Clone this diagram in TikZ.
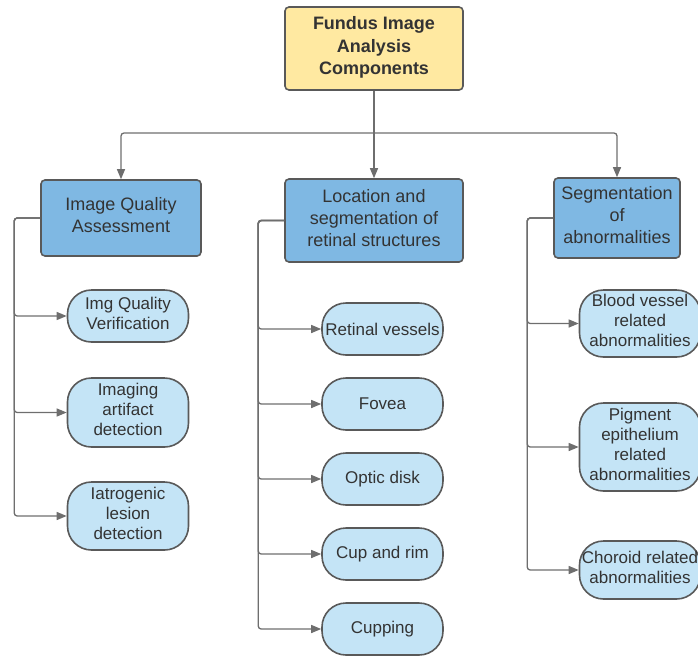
\documentclass[tikz,border=0pt]{standalone}
\usepackage{fontspec}
\setmainfont{Liberation Sans}
\usetikzlibrary{arrows.meta,positioning}
\definecolor{rootfill}{HTML}{FFE9A1}
\definecolor{groupfill}{HTML}{7FB8E3}
\definecolor{leaffill}{HTML}{C4E4F6}
\definecolor{edgegray}{HTML}{595959}
\definecolor{wiregray}{HTML}{6E6E6E}
\definecolor{ink}{HTML}{333333}

\begin{document}
\begin{tikzpicture}[
  x=1pt, y=-1pt,
  rootbox/.style={draw=edgegray, line width=1.6pt, fill=rootfill, rounded corners=4pt, align=center, inner sep=0pt,
    text=ink, font=\fontsize{18}{22.5}\selectfont\bfseries, minimum width=178pt, minimum height=83pt, text depth=6pt},
  groupbox/.style={draw=edgegray, line width=1.6pt, fill=groupfill, rounded corners=4pt, align=center, inner sep=0pt,
    text=ink, font=\fontsize{18}{22}\selectfont, text depth=6pt},
  leaf/.style={draw=edgegray, line width=1.6pt, fill=leaffill, rounded corners=24pt, align=center, inner sep=0pt,
    text=ink, font=\fontsize{17}{20}\selectfont, minimum width=121pt},
  lift/.style={text depth=6pt},
  wire/.style={draw=wiregray, line width=1.3pt, rounded corners=3pt},
  arr/.style={wire, -{Triangle[length=10pt,width=8pt]}}
]
\useasboundingbox (0,0) rectangle (698,656);

% top
\node[rootbox] (root) at (374,48.5) {Fundus Image\\Analysis\\Components};

% three branches
\node[groupbox, minimum width=160pt, minimum height=76pt] (iqa) at (121,218) {Image Quality\\Assessment};
\node[groupbox, minimum width=178pt, minimum height=83pt] (loc) at (374,220.5) {Location and\\segmentation of\\retinal structures};
\node[groupbox, minimum width=126pt, minimum height=80pt] (seg) at (617,218) {Segmentation\\of\\abnormalities};

\coordinate (hub) at (374,133);
\draw[wire] (root) -- (hub);
\draw[arr] (hub) -| (iqa);
\draw[arr] (hub) -- (loc);
\draw[arr] (hub) -| (seg);

% image quality
\node[leaf, lift, minimum height=52pt] (iqv) at (128,316) {Img Quality\\Verification};
\node[leaf, lift, minimum height=69pt] (iad) at (128,412.5) {Imaging\\artifact\\detection};
\node[leaf, lift, minimum height=68pt] (ild) at (128,516) {Iatrogenic\\lesion\\detection};

% retinal structures
\node[leaf, minimum height=52pt] (ves) at (382.5,329) {Retinal vessels};
\node[leaf, minimum height=52pt] (fov) at (382.5,404) {Fovea};
\node[leaf, minimum height=52pt] (opt) at (382.5,479) {Optic disk};
\node[leaf, minimum height=52pt] (cup) at (382.5,554) {Cup and rim};
\node[leaf, minimum height=52pt] (cpg) at (382.5,629) {Cupping};

% abnormalities
\node[leaf, lift, minimum height=67pt] (bva) at (640,323.5) {Blood vessel\\related\\abnormalities};
\node[leaf, lift, minimum height=88pt] (pea) at (640,447) {Pigment\\epithelium\\related\\abnormalities};
\node[leaf, lift, minimum height=58pt] (cra) at (640,570) {Choroid related\\abnormalities};

\foreach \n in {iqv,iad,ild}
  \draw[arr] (iqa.west) -- ++(-26,0) |- (\n.west);
\foreach \n in {ves,fov,opt,cup,cpg}
  \draw[arr] (loc.west) -- ++(-26,0) |- (\n.west);
\foreach \n in {bva,pea,cra}
  \draw[arr] (seg.west) -- ++(-26,0) |- (\n.west);
\end{tikzpicture}
\end{document}
